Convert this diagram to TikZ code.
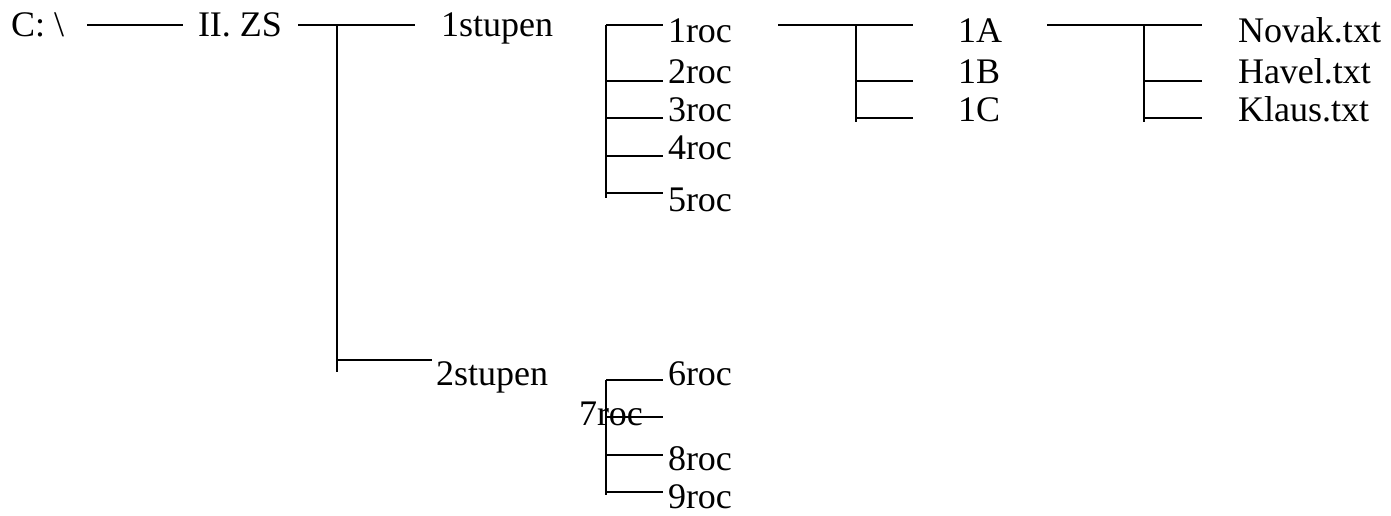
\documentclass[tikz,border=0pt]{standalone}
\usepackage{fontspec}
\setmainfont{Liberation Serif}

\begin{document}
\begin{tikzpicture}[x=0.5pt, y=-0.5pt, line width=1pt,
	lbl/.style={anchor=base west, inner sep=0pt, font=\fontsize{18}{21}\selectfont}]
\useasboundingbox (0,0) rectangle (1391,515);

% texts
\node[lbl] (disk) at (10,36) {C: \textbackslash};
\node[lbl] (school) at (197,36) {II. ZS};
\node[lbl] (stage1) at (440,36) {1stupen};
\node[lbl] (stage2) at (435,385) {2stupen};
\foreach \nr/\y in {1/42, 2/83, 3/121, 4/159, 5/211, 6/385, 8/470, 9/508}
	\node[lbl] (roc\nr) at (667,\y) {\nr roc};
\node[lbl] (roc7) at (578,425) {7roc};
\foreach \k/\y in {A/42, B/83, C/121}
	\node[lbl] (class\k) at (957,\y) {1\k};
\foreach \fn/\y in {Novak/42, Havel/83, Klaus/121}
	\node[lbl] (file\fn) at (1237,\y) {\fn.txt};

% C:\ -- II. ZS
\coordinate (disk-r) at (87,25);
\coordinate (school-l) at (183,25);
\draw (disk-r) -- (school-l);

% II. ZS -- stupne
\coordinate (school-r) at (298,25);
\coordinate (st-top) at (337,25);
\coordinate (st-bot) at (337,372);
\coordinate (stage1-l) at (415,25);
\coordinate (stage2-l) at (432,360);
\draw (school-r) -- (stage1-l);
\draw (st-top) -- (st-bot);
\draw (st-top |- stage2-l) -- (stage2-l);

% 1stupen -- 1roc..5roc
\coordinate (ra-top) at (606,25);
\coordinate (ra-bot) at (606,198);
\draw (ra-top) -- (ra-bot);
\foreach \nr/\y in {1/25, 2/81, 3/118, 4/156, 5/193} {
	\coordinate (ra\nr) at (663,\y);
	\draw (ra-top |- ra\nr) -- (ra\nr);
}

% 2stupen -- 6roc..9roc
\coordinate (rb-top) at (606,380);
\coordinate (rb-bot) at (606,495);
\draw (rb-top) -- (rb-bot);
\foreach \nr/\y in {6/380, 7/417, 8/455, 9/492} {
	\coordinate (rb\nr) at (663,\y);
	\draw (rb-top |- rb\nr) -- (rb\nr);
}

% 1roc -- 1A..1C
\coordinate (roc1-r) at (778,25);
\coordinate (cl-top) at (856,25);
\coordinate (cl-bot) at (856,122);
\draw (cl-top) -- (cl-bot);
\foreach \k/\y in {A/25, B/81, C/118} {
	\coordinate (cl\k) at (913,\y);
	\draw (cl-top |- cl\k) -- (cl\k);
}
\draw (roc1-r) -- (cl-top);

% 1A -- soubory
\coordinate (classA-r) at (1047,25);
\coordinate (fl-top) at (1144,25);
\coordinate (fl-bot) at (1144,122);
\draw (fl-top) -- (fl-bot);
\foreach \fn/\y in {Novak/25, Havel/81, Klaus/118} {
	\coordinate (fl\fn) at (1202,\y);
	\draw (fl-top |- fl\fn) -- (fl\fn);
}
\draw (classA-r) -- (fl-top);

\end{tikzpicture}
\end{document}
